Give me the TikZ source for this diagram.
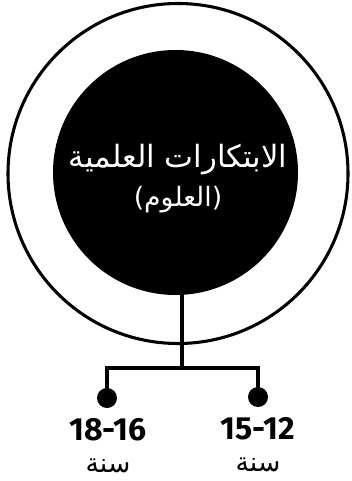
\documentclass[tikz,border=0pt]{standalone}
\usepackage{fontspec}
\TeXXeTstate=1
\newfontfamily\arabicfont[Script=Arabic]{DejaVu Sans}
\newfontfamily\numfont{Fira Sans}
\begin{document}
\begin{tikzpicture}[x=0.75pt,y=-0.75pt,
  ring/.style={draw=black,line width=2.3pt},
  conn/.style={draw=black,line width=2.4pt},
  dotnode/.style={circle,fill=black,inner sep=0pt,minimum size=15pt},
  title/.style={text=white,font=\arabicfont\fontsize{23}{26}\selectfont,inner sep=0pt},
  sub/.style={text=white,font=\arabicfont\fontsize{20}{22}\selectfont,inner sep=0pt},
  agenum/.style={font=\numfont\bfseries\fontsize{24}{26}\selectfont,inner sep=0pt,anchor=base,text height=13pt,text depth=0pt},
  ageword/.style={font=\arabicfont\fontsize{20}{24}\selectfont,inner sep=0pt,anchor=base,text height=9pt,text depth=2pt}]
\useasboundingbox (0,0) rectangle (351,481);
\fill[white] (0,0) rectangle (351,481);
\node[circle,ring,minimum size=255pt,inner sep=0pt] (outer) at (178,173.5) {};
\node[circle,fill=black,minimum size=183.75pt,inner sep=0pt] (core) at (175.5,172.5) {};
\node[title] (t1) at (178,160) {\beginR الابتكارات العلمية\endR};
\node[sub] (t2) at (178,200) {\beginR (العلوم)\endR};
\coordinate (top) at (182,294);
\coordinate (mid) at (182,368);
\coordinate (ml) at (107,368);
\coordinate (mr) at (258,368);
\node[dotnode] (dl) at (107,398) {};
\node[dotnode] (dr) at (258,397) {};
\draw[conn] (top) -- (mid);
\draw[conn,line cap=rect] (ml) -- (mr);
\draw[conn] (ml) -- (dl.center);
\draw[conn] (mr) -- (dr.center);
\node[agenum] (n1) at (108,440) {18-16};
\node[agenum] (n2) at (258,439) {15-12};
\node[ageword] (w1) at (108,472) {\beginR سنة\endR};
\node[ageword] (w2) at (258,471) {\beginR سنة\endR};
\end{tikzpicture}
\end{document}
